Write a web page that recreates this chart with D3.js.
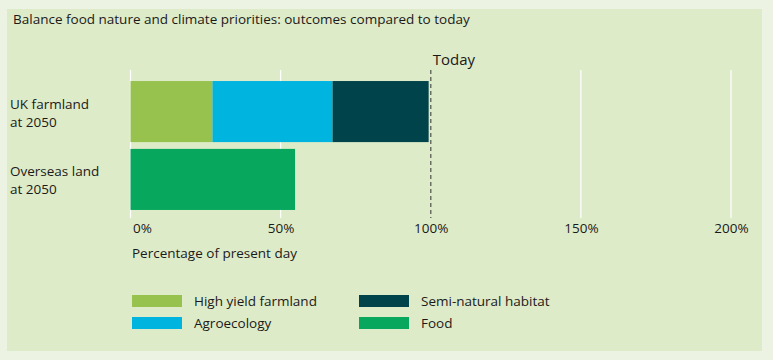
<!DOCTYPE html>
<html lang="en">
<head>
<meta charset="UTF-8">
<title>Balance food nature and climate priorities</title>
<script src="https://d3js.org/d3.v7.min.js"></script>
<style>
    body { margin: 0; background: #ecf3e2; }
    svg { display: block; font-family: "Open Sans", sans-serif; }
</style>
</head>
<body>
<div id="chart"></div>
<script>
// data
const categories = ["UK farmland\nat 2050", "Overseas land\nat 2050"];
const seriesNames = ["High yield farmland", "Agroecology", "Semi-natural habitat", "Food"];
const seriesColors = ["#97c24e", "#00b4e0", "#00434a", "#07a85d"];
const ukValues = [27.3, 40, 32];          // high yield, agroecology, semi-natural
const overseasValues = [0, 0, 0, 54.8];   // food only
const tickValues = [0, 50, 100, 150, 200];
const todayValue = 100;

const width = 773, height = 360;
const svg = d3.select("#chart").append("svg")
    .attr("width", width)
    .attr("height", height);

// inner panel
svg.append("rect")
    .attr("x", 7).attr("y", 9)
    .attr("width", 755).attr("height", 342)
    .attr("fill", "#deebc8");

svg.append("text")
    .attr("x", 13).attr("y", 24)
    .attr("font-size", 13.5)
    .attr("fill", "#1a1a1a")
    .text("Balance food nature and climate priorities: outcomes compared to today");

const x = d3.scaleLinear().domain([0, 200]).range([130.5, 731]);
const y = d3.scaleBand().domain(categories).range([79, 212]).paddingInner(0.1).paddingOuter(0.03);

const gridTop = 70, gridBottom = 218;

// gridlines
svg.append("g").selectAll("line")
    .data(tickValues.filter(d => d !== todayValue))
    .join("line")
    .attr("x1", d => x(d)).attr("x2", d => x(d))
    .attr("y1", gridTop).attr("y2", gridBottom)
    .attr("stroke", "#ffffff")
    .attr("stroke-width", 1.2);

// stacked bars
const rows = [ukValues, overseasValues].map((vals, i) => {
    let acc = 0;
    return vals.map((v, j) => {
        const seg = { cat: categories[i], x0: acc, x1: acc + v, color: seriesColors[j] };
        acc += v;
        return seg;
    }).filter(s => s.x1 > s.x0);
});

svg.append("g").selectAll("rect")
    .data(rows.flat())
    .join("rect")
    .attr("x", d => x(d.x0))
    .attr("y", d => y(d.cat))
    .attr("width", d => x(d.x1) - x(d.x0))
    .attr("height", y.bandwidth())
    .attr("fill", d => d.color);

// today line
svg.append("line")
    .attr("x1", x(todayValue)).attr("x2", x(todayValue))
    .attr("y1", gridTop).attr("y2", gridBottom)
    .attr("stroke", "#6b6f63")
    .attr("stroke-width", 1.5)
    .attr("stroke-dasharray", "4,3");

svg.append("text")
    .attr("x", x(todayValue) + 2).attr("y", 65)
    .attr("font-size", 15)
    .attr("fill", "#1a1a1a")
    .text("Today");

// category labels
svg.append("g").selectAll("text")
    .data(categories)
    .join("text")
    .attr("x", 10)
    .attr("y", d => y(d) + y.bandwidth() / 2 - 3)
    .attr("font-size", 13.5)
    .attr("fill", "#1a1a1a")
    .each(function(d) {
        const lines = d.split("\n");
        d3.select(this).selectAll("tspan")
            .data(lines)
            .join("tspan")
            .attr("x", 10)
            .attr("dy", (l, i) => i === 0 ? 0 : 18)
            .text(l => l);
    });

// x axis labels
const axis = d3.axisBottom(x)
    .tickValues(tickValues)
    .tickSize(0)
    .tickFormat(d => d + "%");

const gx = svg.append("g")
    .attr("transform", `translate(0, ${gridBottom})`)
    .call(axis);
gx.select(".domain").remove();
gx.selectAll("text")
    .attr("font-size", 13.5)
    .attr("fill", "#1a1a1a")
    .attr("font-family", "Open Sans, sans-serif")
    .attr("dy", "0.9em")
    .attr("dx", d => d === 0 ? 2 : 0)
    .attr("text-anchor", d => d === 0 ? "start" : "middle");

svg.append("text")
    .attr("x", 132).attr("y", 258)
    .attr("font-size", 13.5)
    .attr("fill", "#1a1a1a")
    .text("Percentage of present day");

// legend
const legendPos = [[132, 295], [132, 317], [359, 295], [359, 317]];
const legend = svg.append("g").selectAll("g")
    .data(seriesNames)
    .join("g")
    .attr("transform", (d, i) => `translate(${legendPos[i][0]}, ${legendPos[i][1]})`);

legend.append("rect")
    .attr("width", 50).attr("height", 12)
    .attr("fill", (d, i) => seriesColors[i]);

legend.append("text")
    .attr("x", 62).attr("y", 10.5)
    .attr("font-size", 13.5)
    .attr("fill", "#1a1a1a")
    .text(d => d);
</script>
</body>
</html>
